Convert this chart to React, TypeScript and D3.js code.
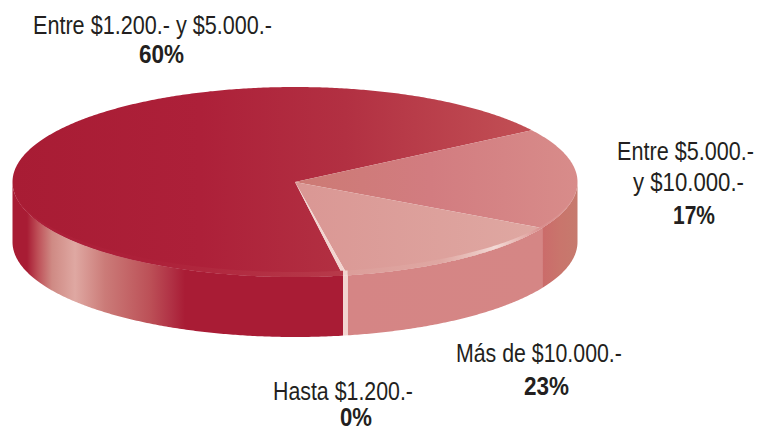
import React, { useEffect, useRef } from "react";
import * as d3 from "d3";

const categories = ["Entre $1.200.- y $5.000.-", "Entre $5.000.- y $10.000.-", "Más de $10.000.-", "Hasta $1.200.-"];
const printedPercents = ["60%", "17%", "23%", "0%"];
// share of the circle each slice really occupies in the picture (differs from the printed %)
const drawnShares = [68.55, 17.22, 13.97, 0.26];

const width = 757;
const height = 432;
const rad = Math.PI / 180;
const startDeg = 170.2;
const depth = 60;
const rimDepth = 5;

// [offset px, colour]
const topStops: [number, string][][] = [
  [[12, "#a81c34"], [200, "#ad2039"], [345, "#b23042"], [532, "#c25055"]],
  [[295, "#cc7a74"], [430, "#d27c80"], [578, "#d88c8a"]],
  [[295, "#da9794"], [542, "#dfa8a2"]],
  [[340, "#f2d5d0"], [350, "#f2d5d0"]],
];
const sideStops: [number, string][][] = [
  [[13, "#a81c34"], [27, "#a81c34"], [38, "#be5058"], [52, "#cf8a84"], [75, "#dfa8a2"], [105, "#cb7b78"], [150, "#bc5057"], [172, "#b03044"], [185, "#a91c35"], [345, "#a91c35"]],
  [[542, "#cb6b6a"], [560, "#c9756c"], [578, "#c67a6e"]],
  [[345, "#d58585"], [542, "#d58685"]],
  [[340, "#f2d5d0"], [350, "#f2d5d0"]],
];
const rimStops: [number, string][][] = [
  [[150, "#ad2039"], [345, "#b73a4a"]],
  [[542, "#d98e8e"], [578, "#dc9a98"]],
  [[345, "#dc9e9a"], [440, "#dfa7a2"], [475, "#eac4bf"], [495, "#f3dad6"], [525, "#e4aeaa"], [542, "#d98e8e"]],
  [[340, "#f2d5d0"], [350, "#f2d5d0"]],
];

const labelLines = [
  [{ text: categories[0], x: 33, x2: 272, y: 34 }, { text: printedPercents[0], x: 139, x2: 184, y: 63, bold: true }],
  [{ text: "Entre $5.000.-", x: 617, x2: 754, y: 160 }, { text: "y $10.000.-", x: 633, x2: 744, y: 191 }, { text: printedPercents[1], x: 673, x2: 715, y: 224, bold: true }],
  [{ text: categories[2], x: 456, x2: 622, y: 362 }, { text: printedPercents[2], x: 524, x2: 569, y: 395, bold: true }],
  [{ text: categories[3], x: 273, x2: 413, y: 400 }, { text: printedPercents[3], x: 340, x2: 372, y: 426, bold: true }],
];

const App = () => {
  const ref = useRef<SVGSVGElement>(null);

  useEffect(() => {
    const svg = d3.select(ref.current);
    svg.selectAll("*").remove();

    const xScale = d3.scaleLinear().domain([-1, 1]).range([12.5, 577.5]);
    const yScale = d3.scaleLinear().domain([-1, 1]).range([87, 277]);

    const pie = d3
      .pie<number>()
      .sort(null)
      .startAngle(startDeg * rad)
      .endAngle((startDeg + 360) * rad);
    const slices = pie(drawnShares);

    const defs = svg.append("defs");
    const gradient = (id: string, stops: [number, string][]) => {
      const g = defs
        .append("linearGradient")
        .attr("id", id)
        .attr("gradientUnits", "userSpaceOnUse")
        .attr("x1", stops[0][0])
        .attr("x2", stops[stops.length - 1][0])
        .attr("y1", 0)
        .attr("y2", 0);
      const span = stops[stops.length - 1][0] - stops[0][0];
      stops.forEach((s) => {
        g.append("stop").attr("offset", (s[0] - stops[0][0]) / span).attr("stop-color", s[1]);
      });
    };
    slices.forEach((_, i) => {
      gradient(`top${i}`, topStops[i]);
      gradient(`side${i}`, sideStops[i]);
      gradient(`rim${i}`, rimStops[i]);
    });

    const line = d3.line<[number, number]>().x((d) => d[0]).y((d) => d[1]);

    // points along the rim, a = clockwise from top
    const rimPoints = (a0: number, a1: number, dy: number, shrink = 0): [number, number][] => {
      const n = Math.max(2, Math.ceil(Math.abs(a1 - a0) / (0.5 * rad)));
      const full = yScale(1) - yScale(0);
      return d3.range(n + 1).map((k) => {
        const a = a0 + ((a1 - a0) * k) / n;
        return [xScale(Math.sin(a)), yScale((-Math.cos(a) * (full - shrink)) / full) + dy];
      });
    };

    // slice angles run past 360 deg, so clip against both turns
    const frontRanges = (s: any, lo: number, hi: number) => {
      const out: [number, number][] = [];
      for (const turn of [0, 360]) {
        const a0 = Math.max(s.startAngle, (lo + turn) * rad);
        const a1 = Math.min(s.endAngle, (hi + turn) * rad);
        if (a1 > a0) out.push([a0, a1]);
      }
      return out;
    };

    // walls first, only the front half of the disc shows
    slices.forEach((s, i) => {
      frontRanges(s, 90, 270).forEach(([a0, a1]) => {
        const pts = [...rimPoints(a0, a1, 0), ...rimPoints(a1, a0, depth)];
        svg.append("path").attr("d", line(pts) + "Z").attr("fill", `url(#side${i})`);
      });
    });

    // top faces
    slices.forEach((s, i) => {
      const centre: [number, number] = [xScale(0), yScale(0)];
      const pts = [centre, ...rimPoints(s.startAngle, s.endAngle, 0)];
      svg.append("path").attr("d", line(pts) + "Z").attr("fill", `url(#top${i})`);
    });

    // bevel along the front edge of the top face
    slices.forEach((s, i) => {
      frontRanges(s, 90, 262).forEach(([a0, a1]) => {
        const pts = [...rimPoints(a0, a1, 0), ...rimPoints(a1, a0, 0, rimDepth)];
        svg.append("path").attr("d", line(pts) + "Z").attr("fill", `url(#rim${i})`);
      });
    });

    // labels, squeezed horizontally because the original face is condensed
    labelLines.flat().forEach((l: any) => {
      const t = svg
        .append("text")
        .attr("font-family", "'Liberation Sans', Arial, sans-serif")
        .attr("font-size", 25)
        .attr("font-weight", l.bold ? 700 : 400)
        .attr("fill", "#231f20")
        .text(l.text);
      const natural = (t.node() as SVGTextElement).getComputedTextLength();
      t.attr("transform", `translate(${l.x},${l.y}) scale(${(l.x2 - l.x) / natural},1)`);
    });
  }, []);

  return (
    <svg
      ref={ref}
      width={width}
      height={height}
      style={{ position: "absolute", left: 0, top: 0, background: "#fff" }}
    />
  );
};

export default App;
